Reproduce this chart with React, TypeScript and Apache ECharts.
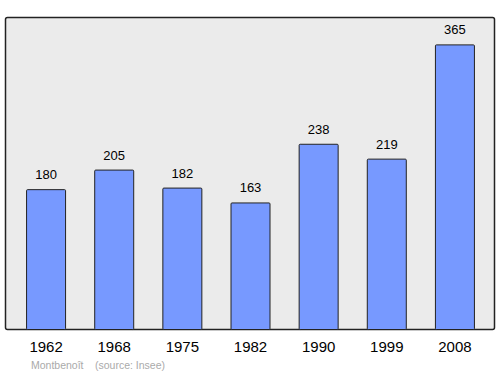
import React, { useEffect, useRef } from "react";
import * as echarts from "echarts";

const years = ["1962", "1968", "1975", "1982", "1990", "1999", "2008"];
const population = [180, 205, 182, 163, 238, 219, 365];
const townName = "Montbenoît";
const sourceText = "(source: Insee)";

export default function App() {
  const ref = useRef<HTMLDivElement>(null);
  useEffect(() => {
    if (!ref.current) return;
    const chart = echarts.init(ref.current, null, { renderer: "svg" });
    const font = "Liberation Sans, Arial, sans-serif";
    chart.setOption({
      animation: false,
      grid: { left: 12, right: 11, top: 17, bottom: 44, show: false },
      graphic: [
        {
          type: "rect",
          z: -10,
          silent: true,
          shape: { x: 5.5, y: 17.5, width: 489, height: 312, r: 2 },
          style: { fill: "#ebebeb", stroke: "#222", lineWidth: 1.5 },
        },
        {
          type: "text",
          left: 31,
          top: 359,
          style: { text: townName, fill: "#aaaaaa", fontSize: 10.5, fontFamily: font },
        },
        {
          type: "text",
          left: 95,
          top: 359,
          style: { text: sourceText, fill: "#aaaaaa", fontSize: 10.5, fontFamily: font },
        },
      ],
      xAxis: {
        type: "category",
        data: years,
        axisLine: { show: false },
        axisTick: { show: false },
        axisLabel: { color: "#000", fontSize: 15, fontFamily: font, margin: 9 },
      },
      yAxis: {
        type: "value",
        min: 0,
        max: 400,
        show: false,
        splitLine: { show: false },
      },
      series: [
        {
          type: "bar",
          data: population,
          barWidth: 40,
          itemStyle: { color: "#7799ff", borderColor: "#222", borderWidth: 1, borderRadius: 1 },
          label: {
            show: true,
            position: "top",
            distance: 8,
            color: "#000",
            fontSize: 13,
            fontFamily: font,
          },
        },
      ],
    });
    return () => chart.dispose();
  }, []);
  return <div ref={ref} style={{ width: 500, height: 374, position: "absolute", left: 0, top: 0 }} />;
}
